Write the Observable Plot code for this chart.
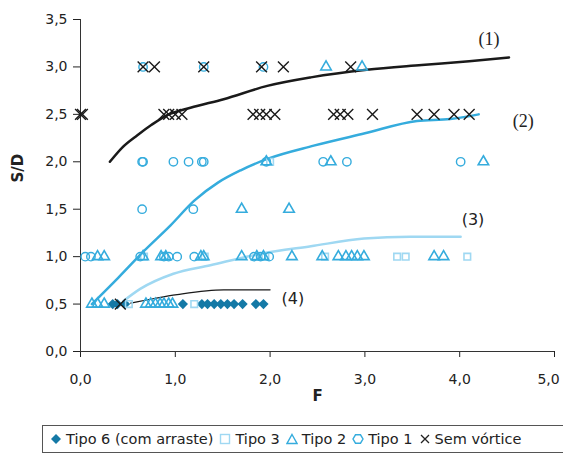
<!DOCTYPE html>
<html><head><meta charset="utf-8">
<script src="https://cdn.jsdelivr.net/npm/d3@7"></script>
<script src="https://cdn.jsdelivr.net/npm/@observablehq/plot@0.6"></script>
<style>
body{margin:0;background:#fff;font-family:"DejaVu Sans",sans-serif;}
#wrap{position:relative;width:563px;height:454px;overflow:hidden;}
#legend{position:absolute;left:42px;top:425px;width:540px;height:28px;border:1px solid #555;box-sizing:border-box;display:flex;align-items:center;font-size:14.5px;color:#222;white-space:nowrap;padding-left:7px;}
#legend span{display:inline-flex;align-items:center;margin-right:6px;}
#legend svg{margin-right:4px;}
</style></head>
<body><div id="wrap"><div id="chart"></div><div id="legend"></div></div>
<script>
// ---- data ----
const xTicks = [0, 1, 2, 3, 4, 5];
const yTicks = [0, 0.5, 1, 1.5, 2, 2.5, 3, 3.5];

const semF  = [0.66,0.78,1.30,1.91,2.14,2.85, 0.0,0.02, 0.88,0.93,1.0,1.07, 1.82,1.89,1.96,2.05, 2.67,2.74,2.82,3.08,3.55,3.73,3.94,4.10, 0.42];
const semSD = [3,3,3,3,3,3, 2.5,2.5, 2.5,2.5,2.5,2.5, 2.5,2.5,2.5,2.5, 2.5,2.5,2.5,2.5,2.5,2.5,2.5,2.5, 0.5];

const t1F  = [0.66,1.30,1.93, 0.65,0.66,0.98,1.14,1.28,1.30,1.96,2.56,2.81,4.01, 0.65,1.19, 0.05,0.11,0.63,0.88,0.93,1.02,1.20,1.83,1.90,1.99];
const t1SD = [3,3,3, 2,2,2,2,2,2,2,2,2,2, 1.5,1.5, 1,1,1,1,1,1,1,1,1,1];

const t2F  = [2.59,2.97, 1.96,2.64,4.25, 1.70,2.20, 0.18,0.25,0.66,0.85,0.90,1.27,1.30,1.70,1.86,1.93,2.23,2.55,2.72,2.80,2.86,2.92,2.99,3.73,3.83, 0.12,0.18,0.25,0.69,0.74,0.79,0.84,0.88,0.93,0.97];
const t2SD = [3,3, 2,2,2, 1.5,1.5, 1,1,1,1,1,1,1,1,1,1,1,1,1,1,1,1,1,1,1, 0.5,0.5,0.5,0.5,0.5,0.5,0.5,0.5,0.5,0.5];

const t3F  = [2.00, 0.67,1.31,1.95,2.58,3.34,3.43,4.08, 0.51,1.20];
const t3SD = [2, 1,1,1,1,1,1,1, 0.5,0.5];

const t6F  = [0.34,0.39,0.47,1.08,1.28,1.34,1.41,1.48,1.55,1.62,1.71,1.85,1.93];
const t6SD = [0.5,0.5,0.5,0.5,0.5,0.5,0.5,0.5,0.5,0.5,0.5,0.5,0.5];

const c1F  = [0.31,0.44,0.60,0.75,0.91,1.16,1.51,1.97,2.43,3.02,3.60,4.10,4.52];
const c1SD = [2.00,2.15,2.28,2.39,2.49,2.57,2.66,2.80,2.89,2.97,3.02,3.06,3.10];
const c2F  = [0.12,0.40,0.67,0.95,1.20,1.45,1.69,1.97,2.46,3.00,3.55,3.90,4.20];
const c2SD = [0.50,0.78,1.06,1.33,1.59,1.78,1.91,2.03,2.17,2.30,2.43,2.45,2.50];
const c3F  = [0.45,0.63,0.98,1.37,1.90,2.43,2.99,3.48,4.01];
const c3SD = [0.53,0.66,0.82,0.91,1.03,1.11,1.19,1.21,1.21];
const c4F  = [0.53,1.02,1.51,2.00];
const c4SD = [0.51,0.60,0.65,0.65];

const curveLabels = ["(1)", "(2)", "(3)", "(4)"];
const curveLabelF = [4.31, 4.67, 4.14, 2.24];
const curveLabelSD = [3.29, 2.43, 1.39, 0.56];

// ---- build ----
const zip = (xs, ys) => xs.map((x, i) => ({x, y: ys[i]}));
const fmt = d => d.toFixed(1).replace(".", ",");
const MID = "#35ACDD", LIGHT = "#9FD8F2", DARK = "#1479A6";

const chart = Plot.plot({
  width: 563, height: 415,
  marginLeft: 80, marginRight: 9, marginTop: 19, marginBottom: 64,
  style: {fontFamily: "'DejaVu Sans', sans-serif", fontSize: "14px", color: "#222"},
  x: {domain: [0, 5]},
  y: {domain: [0, 3.5]},
  marks: [
    Plot.axisX({ticks: xTicks, tickFormat: fmt, tickSize: 6, tickPadding: 17, label: null, fontSize: 14}),
    Plot.axisY({ticks: yTicks, tickFormat: fmt, tickSize: 7, tickPadding: 6, label: null, fontSize: 14}),
    Plot.ruleX([0], {stroke: "#333"}),
    Plot.ruleY([0], {stroke: "#333"}),
    Plot.line(zip(c1F, c1SD), {x: "x", y: "y", stroke: "#1a1a1a", strokeWidth: 2.5, curve: "monotone-x"}),
    Plot.line(zip(c2F, c2SD), {x: "x", y: "y", stroke: MID, strokeWidth: 2.5, curve: "monotone-x"}),
    Plot.line(zip(c3F, c3SD), {x: "x", y: "y", stroke: LIGHT, strokeWidth: 2.5, curve: "monotone-x"}),
    Plot.line(zip(c4F, c4SD), {x: "x", y: "y", stroke: "#1a1a1a", strokeWidth: 1.2, curve: "monotone-x"}),
    Plot.dot(zip(t6F, t6SD), {x: "x", y: "y", symbol: "diamond2", r: 4.6, fill: DARK, stroke: "none"}),
    Plot.dot(zip(t3F, t3SD), {x: "x", y: "y", symbol: "square2", r: 4.2, fill: "none", stroke: LIGHT, strokeWidth: 1.6}),
    Plot.dot(zip(t2F, t2SD), {x: "x", y: "y", symbol: "triangle2", r: 5, fill: "none", stroke: MID, strokeWidth: 1.6}),
    Plot.dot(zip(t1F, t1SD), {x: "x", y: "y", symbol: "circle", r: 4.2, fill: "none", stroke: MID, strokeWidth: 1.4}),
    Plot.dot(zip(semF, semSD), {x: "x", y: "y", symbol: "times", r: 5, stroke: "#1a1a1a", strokeWidth: 1.4}),
    Plot.text(curveLabels, {x: (d, i) => curveLabelF[i], y: (d, i) => curveLabelSD[i], text: d => d,
      fontSize: 16, fill: "#222"}),
    Plot.text(["F"], {frameAnchor: "bottom", dy: 49, text: d => d, fontWeight: "bold", fontSize: 15}),
    Plot.text(["S/D"], {frameAnchor: "left", dx: -62, dy: -3, rotate: -90, text: d => d, fontWeight: "bold", fontSize: 15})
  ]
});
document.getElementById("chart").appendChild(chart);
chart.querySelectorAll("text").forEach(t => {
  const s = t.textContent;
  if (s === "(1)" || s === "(2)") { t.setAttribute("font-family", "Liberation Serif, serif"); t.setAttribute("font-size", "18"); }
  if (s === "5,0") t.setAttribute("dx", "-6");
});

// ---- legend ----
const legendItems = [
  {label: "Tipo 6 (com arraste)", svg: `<path d="M6,1 L11,6 L6,11 L1,6Z" fill="${DARK}"/>`},
  {label: "Tipo 3", svg: `<rect x="1.5" y="1.5" width="9" height="9" fill="none" stroke="${LIGHT}" stroke-width="1.4"/>`},
  {label: "Tipo 2", svg: `<path d="M6,1.5 L11,10.5 L1,10.5Z" fill="none" stroke="${MID}" stroke-width="1.4"/>`},
  {label: "Tipo 1", svg: `<path d="M3.5,1.8 L8.5,1.8 L11,6 L8.5,10.2 L3.5,10.2 L1,6Z" fill="none" stroke="${MID}" stroke-width="1.4"/>`},
  {label: "Sem vórtice", svg: `<path d="M2,2 L10,10 M10,2 L2,10" stroke="#222" stroke-width="1.3"/>`}
];
document.getElementById("legend").innerHTML = legendItems.map(it =>
  `<span><svg width="12" height="12" viewBox="0 0 12 12">${it.svg}</svg>${it.label}</span>`).join("");
</script></body></html>
